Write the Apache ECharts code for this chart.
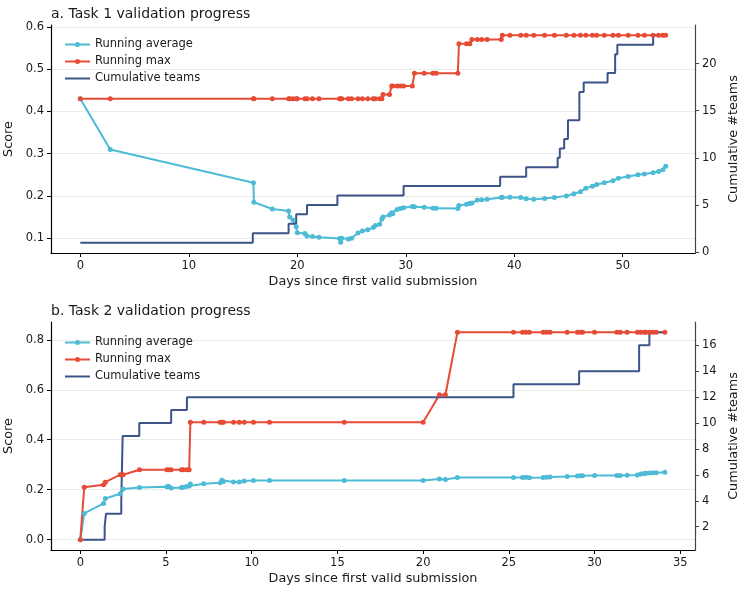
<!DOCTYPE html>
<html>
<head>
<meta charset="utf-8">
<script src="https://cdn.jsdelivr.net/npm/echarts@6/dist/echarts.min.js"></script>
<style>
  html, body { margin: 0; padding: 0; background: #fff; }
  #chart { width: 740px; height: 595px; }
</style>
</head>
<body>
<div id="chart"></div>
<script>
// Task 1 submissions (days since first valid submission)
const days1 = [0, 2.76, 15.96, 16.0, 17.7, 19.2, 19.3, 19.6, 19.9, 20.0, 20.7, 20.9, 21.4, 22.0,
  23.9, 24.0, 24.1, 24.7, 25.0, 25.6, 26.0, 26.5, 27.0, 27.2, 27.6, 27.8, 27.9, 28.5, 28.7, 28.8,
  29.2, 29.5, 29.8, 30.6, 30.8, 31.7, 32.5, 32.8, 34.8, 34.9, 35.6, 35.9, 36.1, 36.6, 37.0, 37.5,
  38.8, 38.9, 39.6, 40.6, 41.1, 41.8, 42.8, 43.7, 44.8, 45.5, 46.1, 46.6, 47.2, 47.6, 48.3, 49.1,
  49.6, 50.5, 51.4, 52.0, 52.8, 53.3, 53.7, 53.96]
const avg1 = [0.43, 0.31, 0.231, 0.185, 0.169, 0.164, 0.150, 0.143, 0.127, 0.113, 0.111, 0.105, 0.104, 0.102,
  0.099, 0.09, 0.1, 0.098, 0.1, 0.112, 0.117, 0.12, 0.125, 0.13, 0.133, 0.145, 0.15, 0.155, 0.16, 0.158,
  0.168, 0.17, 0.172, 0.175, 0.174, 0.173, 0.171, 0.171, 0.17, 0.177, 0.18, 0.182, 0.183, 0.19, 0.191, 0.192,
  0.196, 0.197, 0.197, 0.196, 0.193, 0.192, 0.194, 0.196, 0.2, 0.205, 0.21, 0.218, 0.223, 0.227, 0.231, 0.236,
  0.242, 0.246, 0.25, 0.252, 0.255, 0.258, 0.262, 0.27]
const max1 = [0.43, 0.43, 0.43, 0.43, 0.43, 0.43, 0.43, 0.43, 0.43, 0.43, 0.43, 0.43, 0.43, 0.43,
  0.43, 0.43, 0.43, 0.43, 0.43, 0.43, 0.43, 0.43, 0.43, 0.43, 0.43, 0.43, 0.44, 0.44, 0.46, 0.46,
  0.46, 0.46, 0.46, 0.46, 0.49, 0.49, 0.49, 0.49, 0.49, 0.56, 0.56, 0.56, 0.57, 0.57, 0.57, 0.57,
  0.57, 0.58, 0.58, 0.58, 0.58, 0.58, 0.58, 0.58, 0.58, 0.58, 0.58, 0.58, 0.58, 0.58, 0.58, 0.58,
  0.58, 0.58, 0.58, 0.58, 0.58, 0.58, 0.58, 0.58]
const teamDays1 = [0, 15.9, 19.2, 19.9, 20.9, 23.7, 29.8, 38.7, 41.1, 44.0, 44.2, 44.6, 44.95,
  46.0, 46.4, 48.6, 49.3, 49.5, 52.8, 53.96]
const teams1 = [1, 2, 3, 4, 5, 6, 7, 8, 9, 10, 11, 12, 14, 17, 18, 19, 21, 22, 23, 23]

// Task 2 submissions
const days2 = [0, 0.23, 1.36, 1.46, 2.33, 2.5, 3.45, 5.05, 5.15, 5.3, 5.9, 6.0, 6.2, 6.35, 6.42,
  7.2, 8.16, 8.26, 8.35, 8.94, 9.27, 9.56, 10.1, 11.04, 15.4, 20.0, 20.95, 21.3, 22.0, 25.27,
  25.8, 26.0, 26.2, 27.0, 27.2, 27.4, 28.4, 29.0, 29.2, 29.3, 30.0, 31.3, 31.5, 31.9, 32.5,
  32.7, 32.9, 33.0, 33.2, 33.4, 33.6, 34.1]
const avg2 = [0, 0.105, 0.145, 0.165, 0.184, 0.203, 0.209, 0.212, 0.214, 0.207, 0.209, 0.21, 0.213, 0.215, 0.223,
  0.224, 0.228, 0.238, 0.233, 0.231, 0.231, 0.235, 0.237, 0.237, 0.237, 0.237, 0.243, 0.241, 0.249, 0.249,
  0.249, 0.25, 0.248, 0.249, 0.25, 0.251, 0.253, 0.255, 0.256, 0.256, 0.257, 0.257, 0.257, 0.258, 0.259,
  0.263, 0.265, 0.266, 0.267, 0.268, 0.268, 0.27]
const max2 = [0, 0.21, 0.22, 0.23, 0.26, 0.26, 0.28, 0.28, 0.28, 0.28, 0.28, 0.28, 0.28, 0.28, 0.47,
  0.47, 0.47, 0.47, 0.47, 0.47, 0.47, 0.47, 0.47, 0.47, 0.47, 0.47, 0.58, 0.58, 0.83, 0.83,
  0.83, 0.83, 0.83, 0.83, 0.83, 0.83, 0.83, 0.83, 0.83, 0.83, 0.83, 0.83, 0.83, 0.83, 0.83,
  0.83, 0.83, 0.83, 0.83, 0.83, 0.83, 0.83]
const teamDays2 = [0, 1.42, 1.5, 2.39, 2.47, 3.44, 5.3, 6.22, 25.27, 29.1, 32.6, 33.2, 34.15]
const teams2 = [1, 2, 3, 4, 9, 10, 11, 12, 13, 14, 16, 17, 17]

// tick labels
const xTicks1 = [0, 10, 20, 30, 40, 50]
const scoreTicks1 = [0.1, 0.2, 0.3, 0.4, 0.5, 0.6]
const teamTicks1 = [0, 5, 10, 15, 20]
const xTicks2 = [0, 5, 10, 15, 20, 25, 30, 35]
const scoreTicks2 = [0.0, 0.2, 0.4, 0.6, 0.8]
const teamTicks2 = [2, 4, 6, 8, 10, 12, 14, 16]

const font = 'DejaVu Sans'
const ink = '#1a1a1a'
const avgColor = '#4DBBD5'
const maxColor = '#E64B35'
const teamColor = '#3C5488'

// legend icons: a line with a small dot, or a plain line
const dotIcon = 'path://M0,1.6H10.2V3.4H0Z M14.8,1.6H25V3.4H14.8Z M10,2.5A2.5,2.5 0 1,1 15,2.5A2.5,2.5 0 1,1 10,2.5Z'
const lineIcon = 'path://M0,0H25V2H0Z'

const pairs = (xs, ys) => xs.map((x, i) => [x, ys[i]])

const makeAxis = (opts) => ({
  type: 'value',
  gridIndex: opts.grid,
  position: opts.position,
  min: opts.min,
  max: opts.max,
  name: opts.name,
  nameLocation: 'middle',
  nameGap: opts.nameGap,
  nameRotate: opts.nameRotate,
  nameTextStyle: { fontFamily: font, fontSize: 12.8, color: ink },
  axisLine: { show: true, onZero: false, lineStyle: { color: opts.lineColor || '#000', width: 1.2 } },
  axisTick: { show: true, length: 4, customValues: opts.ticks, lineStyle: { color: opts.lineColor || '#000' } },
  axisLabel: {
    customValues: opts.ticks,
    margin: 7,
    fontFamily: font,
    fontSize: 11.5,
    color: ink,
    formatter: opts.fmt
  },
  splitLine: { show: !!opts.gridLines, lineStyle: { color: '#ebebeb', width: 1 } }
})

const scoreSeries = (name, xs, ys, color, axisIdx) => ({
  name: name,
  type: 'line',
  xAxisIndex: axisIdx,
  yAxisIndex: axisIdx * 2,
  data: pairs(xs, ys),
  symbol: 'circle',
  symbolSize: 5,
  showAllSymbol: true,
  lineStyle: { color: color, width: 2 },
  itemStyle: { color: color },
  emphasis: { disabled: true },
  animation: false
})

const teamSeries = (xs, ys, axisIdx) => ({
  name: 'Cumulative teams',
  type: 'line',
  step: 'end',
  xAxisIndex: axisIdx,
  yAxisIndex: axisIdx * 2 + 1,
  data: pairs(xs, ys),
  symbol: 'none',
  lineStyle: { color: teamColor, width: 2 },
  itemStyle: { color: teamColor },
  z: 3,
  animation: false
})

const legendAt = (top) => ({
  orient: 'vertical',
  left: 60,
  top: top,
  itemWidth: 25,
  itemHeight: 5,
  itemGap: 4,
  textStyle: { fontFamily: font, fontSize: 11.5, color: ink, lineHeight: 13 },
  data: [
    { name: 'Running average', icon: dotIcon, itemStyle: { color: avgColor, borderWidth: 0 } },
    { name: 'Running max', icon: dotIcon, itemStyle: { color: maxColor, borderWidth: 0 } },
    { name: 'Cumulative teams', icon: lineIcon, itemStyle: { color: teamColor, borderWidth: 0 } }
  ]
})

const chart = echarts.init(document.getElementById('chart'), null, { renderer: 'canvas' })

const option = {
  backgroundColor: '#fff',
  animation: false,
  title: [
    { text: 'a. Task 1 validation progress', left: 46, top: 2,
      textStyle: { fontFamily: font, fontSize: 14, fontWeight: 'normal', color: ink } },
    { text: 'b. Task 2 validation progress', left: 46, top: 299,
      textStyle: { fontFamily: font, fontSize: 14, fontWeight: 'normal', color: ink } }
  ],
  legend: [legendAt(33), legendAt(331)],
  grid: [
    { left: 51, top: 25, width: 644, height: 228, outerBoundsMode: 'none' },
    { left: 51, top: 322, width: 644, height: 228, outerBoundsMode: 'none' }
  ],
  xAxis: [
    makeAxis({ grid: 0, position: 'bottom', min: -2.7, max: 56.66, ticks: xTicks1,
      name: 'Days since first valid submission', nameGap: 22 }),
    makeAxis({ grid: 1, position: 'bottom', min: -1.71, max: 35.86, ticks: xTicks2,
      name: 'Days since first valid submission', nameGap: 22 })
  ],
  yAxis: [
    makeAxis({ grid: 0, position: 'left', min: 0.0648, max: 0.6045, ticks: scoreTicks1,
      name: 'Score', nameGap: 32, nameRotate: 90, gridLines: true, fmt: v => v.toFixed(1) }),
    makeAxis({ grid: 0, position: 'right', min: -0.1, max: 24.1, ticks: teamTicks1,
      name: 'Cumulative #teams', nameGap: 25, nameRotate: 90, lineColor: '#444' }),
    makeAxis({ grid: 1, position: 'left', min: -0.0415, max: 0.8715, ticks: scoreTicks2,
      name: 'Score', nameGap: 32, nameRotate: 90, gridLines: true, fmt: v => v.toFixed(1) }),
    makeAxis({ grid: 1, position: 'right', min: 0.2, max: 17.8, ticks: teamTicks2,
      name: 'Cumulative #teams', nameGap: 25, nameRotate: 90, lineColor: '#444' })
  ],
  series: [
    scoreSeries('Running average', days1, avg1, avgColor, 0),
    scoreSeries('Running max', days1, max1, maxColor, 0),
    teamSeries(teamDays1, teams1, 0),
    scoreSeries('Running average', days2, avg2, avgColor, 1),
    scoreSeries('Running max', days2, max2, maxColor, 1),
    teamSeries(teamDays2, teams2, 1)
  ]
}

chart.setOption(option)
</script>
</body>
</html>
